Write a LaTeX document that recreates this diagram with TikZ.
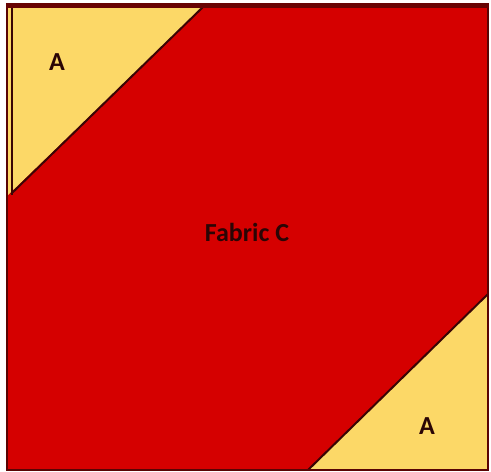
\documentclass[tikz,border=0pt]{standalone}
\usepackage{fontspec}
\setmainfont{Carlito}
\definecolor{fabricred}{HTML}{D50000}
\definecolor{fabricyel}{HTML}{FCD867}
\definecolor{edgedark}{HTML}{3A0505}
\definecolor{txtdark}{HTML}{2A0505}
\tikzset{
  seam/.style={draw=edgedark, line width=2pt},
  lbl/.style={font=\bfseries\fontsize{26}{30}\selectfont, text=txtdark, inner sep=0pt}
}
\begin{document}
\begin{tikzpicture}[x=1pt,y=1pt]
\useasboundingbox (0,0) rectangle (491,472);
\fill[white] (0,0) rectangle (491,472);
% outer square
\coordinate (sw) at (7,2);
\coordinate (ne) at (488,466);
\coordinate (nw) at (7,466);
\fill[fabricred] (sw) rectangle (ne);
% top-left triangle
\coordinate (tl1) at (7,466);
\coordinate (tl2) at (204,466);
\coordinate (tl3) at (7,276);
\fill[fabricyel] (tl1) -- (tl2) -- (tl3) -- cycle;
% bottom-right triangle
\coordinate (br1) at (488,178);
\coordinate (br2) at (488,2);
\coordinate (br3) at (308,2);
\fill[fabricyel] (br1) -- (br2) -- (br3) -- cycle;
% seams
\draw[seam] (tl2) -- (11,278);
\draw[seam] (br1) -- (br3);
\coordinate (vt) at (12,466);
\coordinate (vb) at (12,277);
\draw[edgedark, line width=2pt] (vt) -- (vb);
% outer border
\draw[draw=edgedark!80!fabricred, line width=2.5pt] (sw) rectangle (ne);
\draw[draw=edgedark!70!fabricred, line width=5pt] ([xshift=-1.25pt]nw) -- ([xshift=1.25pt]ne);
% labels
\node[lbl] (a1) at (57,410) {A};
\node[lbl] (a2) at (427,46) {A};
\node[lbl] (c) at (247,240) {Fabric C};
\end{tikzpicture}
\end{document}
